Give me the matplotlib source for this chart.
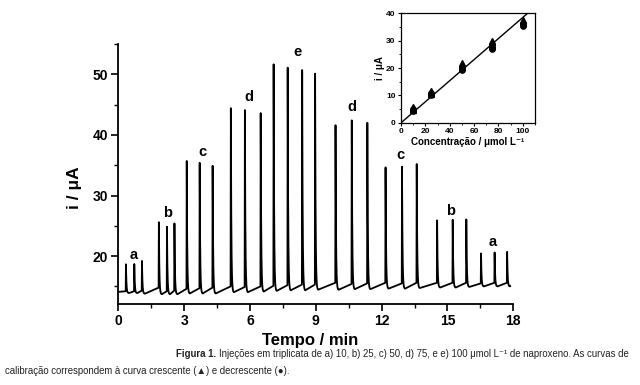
import numpy as np
import matplotlib
matplotlib.use('Agg')
import matplotlib.pyplot as plt
from matplotlib.ticker import MultipleLocator

plt.rcParams['font.family'] = ['Liberation Sans', 'DejaVu Sans']

# ---- main trace data (time in min, current in uA) ----
peak_times = [0.35, 0.73, 1.08, 1.85, 2.22, 2.56, 3.12, 3.71, 4.30,
              5.13, 5.77, 6.49, 7.08, 7.72, 8.38, 8.97, 9.90, 10.64, 11.35,
              12.18, 12.93, 13.60, 14.53, 15.24, 15.86, 16.53, 17.15, 17.72]
peak_heights = [18.65, 18.7, 19.2, 25.6, 24.85, 25.4, 35.7, 35.4, 34.9,
                44.4, 44.1, 43.6, 51.65, 51.1, 50.7, 50.1, 41.6, 42.4, 42.0,
                34.65, 34.75, 35.2, 25.9, 26.0, 26.05, 20.45, 20.6, 20.7]
baseline_pre = [14.2, 14.2, 14.3, 14.8, 14.2, 14.3, 14.6, 14.7, 14.8,
                15.0, 14.9, 15.0, 15.1, 15.2, 15.3, 15.3, 15.6, 15.4, 15.5,
                15.6, 15.5, 15.6, 15.6, 15.6, 15.6, 15.5, 15.6, 15.6]
baseline_trough = [13.9, 13.9, 13.8, 13.7, 13.7, 13.7, 13.8, 13.8, 13.8,
                   14.0, 14.0, 14.1, 14.2, 14.3, 14.3, 14.4, 14.4, 14.5, 14.5,
                   14.6, 14.6, 14.7, 14.8, 14.8, 14.9, 15.0, 15.0, 15.0]
trace_start = (0.0, 14.1)
trace_end = (17.85, 15.1)

peak_labels = ['a', 'b', 'c', 'd', 'e', 'd', 'c', 'b', 'a']
label_pos_t = [0.71, 2.26, 3.82, 5.96, 8.15, 10.65, 12.84, 15.16, 17.08]
label_pos_i = [20.2, 27.1, 37.1, 46.2, 53.6, 44.6, 36.7, 27.4, 22.4]

# ---- inset (calibration) data ----
conc = [10, 25, 50, 75, 100]
asc_reps = [[4.8, 5.2, 5.6], [10.6, 11.2, 11.7], [20.3, 21.0, 21.7], [28.8, 29.4, 30.0], [36.6, 37.1, 37.6]]
desc_reps = [[4.4, 4.7, 5.0], [10.1, 10.4, 10.8], [19.3, 19.8, 20.3], [27.0, 27.2, 27.5], [35.5, 35.8, 36.2]]
fit_slope = 0.385
fit_intercept = 0.0

# ---- build trace ----
ts, ys = [trace_start[0]], [trace_start[1]]
prev_t = trace_start[0]
prev_v = trace_start[1]
for i, (tp, hp) in enumerate(zip(peak_times, peak_heights)):
    seg = np.linspace(prev_t, tp - 0.012, 20)[1:]
    ts.extend(seg)
    ys.extend(np.linspace(prev_v, baseline_pre[i], 20)[1:])
    ts.append(tp)
    ys.append(hp)
    tr = baseline_trough[i]
    dt = np.linspace(0, 0.14, 60)[1:]
    ts.extend(tp + dt)
    ys.extend(tr + (hp - tr) * np.exp(-dt / 0.022))
    prev_t = tp + 0.14
    prev_v = ys[-1]
seg = np.linspace(prev_t, trace_end[0], 10)[1:]
ts.extend(seg)
ys.extend(np.linspace(prev_v, trace_end[1], 10)[1:])

fig = plt.figure(figsize=(6.4, 3.85), dpi=100)
ax = fig.add_axes([0.1848, 0.2104, 0.802 - 0.1848, 0.8857 - 0.2104])
ax.plot(ts, ys, color='black', lw=1.3)
ax.set_xlim(0, 18)
ax.set_ylim(12.1, 55)
for s in ['top', 'right']:
    ax.spines[s].set_visible(False)
for s in ['left', 'bottom']:
    ax.spines[s].set_linewidth(1.3)
ax.xaxis.set_major_locator(MultipleLocator(3))
ax.xaxis.set_minor_locator(MultipleLocator(1.5))
ax.yaxis.set_major_locator(MultipleLocator(10))
ax.yaxis.set_minor_locator(MultipleLocator(5))
ax.set_yticks([20, 30, 40, 50])
ax.tick_params(which='major', length=5, width=1.2, labelsize=10, direction='out', pad=2.5)
ax.tick_params(which='minor', length=3, width=1.0, direction='out')
for lab in ax.get_xticklabels() + ax.get_yticklabels():
    lab.set_fontweight('bold')
ax.set_xlabel('Tempo / min', fontsize=12, fontweight='bold')
ax.xaxis.set_label_coords(0.485, -(345 - 304) / 260)
ax.xaxis.label.set_verticalalignment('baseline')
ax.set_ylabel('i / μA', fontsize=12.5, fontweight='bold')
ax.yaxis.set_label_coords(-0.092, 0.448)
for lab, tx, ty in zip(peak_labels, label_pos_t, label_pos_i):
    ax.text(tx, ty, lab, fontsize=10.5, fontweight='bold', ha='center', va='center')

# inset
axi = fig.add_axes([0.6266, 0.681, 0.836 - 0.6266, 0.9655 - 0.681])
xf = np.array([0, 110])
axi.plot(xf, fit_slope * xf + fit_intercept, color='black', lw=1.0)
for c, a, d in zip(conc, asc_reps, desc_reps):
    axi.plot([c] * len(a), a, linestyle='none', marker='^', color='black', ms=3.8)
    axi.plot([c] * len(d), d, linestyle='none', marker='o', color='black', ms=3.8)
axi.set_xlim(0, 110)
axi.set_ylim(0, 40)
axi.xaxis.set_major_locator(MultipleLocator(20))
axi.xaxis.set_minor_locator(MultipleLocator(10))
axi.yaxis.set_major_locator(MultipleLocator(10))
axi.yaxis.set_minor_locator(MultipleLocator(5))
axi.tick_params(which='major', length=2.5, width=0.8, labelsize=6, pad=1.5)
axi.tick_params(which='minor', length=1.5, width=0.6)
for lab in axi.get_xticklabels() + axi.get_yticklabels():
    lab.set_fontweight('bold')
for s in axi.spines.values():
    s.set_linewidth(0.9)
axi.set_xlabel('Concentração / μmol L⁻¹', fontsize=7, fontweight='bold', labelpad=1)
axi.set_ylabel('i / μA', fontsize=7, fontweight='bold', labelpad=1)

# caption
r = fig.canvas.get_renderer()
cap_size = 6.95
t1 = fig.text(176 / 640, 1 - 357 / 385, 'Figura 1.', fontsize=cap_size, fontweight='bold',
              va='baseline', color='#222222')
bb = t1.get_window_extent(renderer=r)
fig.text(bb.x1 / 640 + 0.004, 1 - 357 / 385,
         'Injeções em triplicata de a) 10, b) 25, c) 50, d) 75, e e) 100 μmol L⁻¹ de naproxeno. As curvas de',
         fontsize=cap_size, va='baseline', color='#222222')
fig.text(5 / 640, 1 - 374 / 385,
         'calibração correspondem à curva crescente (▲) e decrescente (●).',
         fontsize=cap_size, va='baseline', color='#222222')

fig.savefig('out.png', dpi=100)
